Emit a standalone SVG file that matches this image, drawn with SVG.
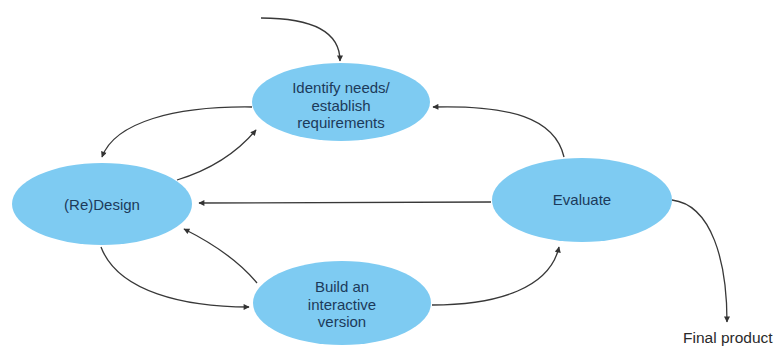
<svg xmlns="http://www.w3.org/2000/svg" width="774" height="349" viewBox="0 0 774 349">
<style>
.node{fill:#7ecbf2;}
.lbl{font-family:"Liberation Sans",Arial,sans-serif;font-size:15px;fill:#1c3a5a;text-anchor:middle;}
.edge{fill:none;stroke:#383838;stroke-width:1.3;}
.out{font-family:"Liberation Sans",Arial,sans-serif;font-size:15.5px;fill:#2a2a2a;}
</style>
<defs>
<marker id="ah" viewBox="0 0 10 10" refX="9" refY="5" markerWidth="9" markerHeight="6" orient="auto" markerUnits="userSpaceOnUse">
<path d="M0,0 L10,5 L0,10 z" fill="#333"/>
</marker>
</defs>
<rect width="774" height="349" fill="#fff"/>
<g id="connectors">
<path class="edge" marker-end="url(#ah)" d="M261,18 C310,18 340,30 340,61"/>
<path class="edge" marker-end="url(#ah)" d="M252,107 C175,106 115,122 102,157"/>
<path class="edge" marker-end="url(#ah)" d="M177,180 C210,170 235,155 256,130"/>
<path class="edge" marker-end="url(#ah)" d="M491,202 L199,203"/>
<path class="edge" marker-end="url(#ah)" d="M564,157 C555,118 510,105 433,107"/>
<path class="edge" marker-end="url(#ah)" d="M101,247 C118,292 185,307 249,307"/>
<path class="edge" marker-end="url(#ah)" d="M257,283 C238,260 212,243 184,229"/>
<path class="edge" marker-end="url(#ah)" d="M432,305 C500,305 550,287 559,247"/>
<path class="edge" marker-end="url(#ah)" d="M672,200 C712,205 727,262 727,322"/>
</g>
<g id="identify">
<ellipse class="node" cx="341" cy="102" rx="89" ry="39"/>
<text class="lbl" x="341" y="93">Identify needs/</text>
<text class="lbl" x="341" y="111">establish</text>
<text class="lbl" x="341" y="128">requirements</text>
</g>
<g id="redesign">
<ellipse class="node" cx="102" cy="204" rx="90" ry="41"/>
<text class="lbl" x="102" y="210">(Re)Design</text>
</g>
<g id="evaluate">
<ellipse class="node" cx="582" cy="200" rx="90" ry="42"/>
<text class="lbl" x="582" y="205">Evaluate</text>
</g>
<g id="build">
<ellipse class="node" cx="342" cy="303" rx="89" ry="42"/>
<text class="lbl" x="342" y="292">Build an</text>
<text class="lbl" x="342" y="310">interactive</text>
<text class="lbl" x="342" y="327">version</text>
</g>
<g id="final">
<text class="out" x="683" y="343">Final product</text>
</g>
</svg>
